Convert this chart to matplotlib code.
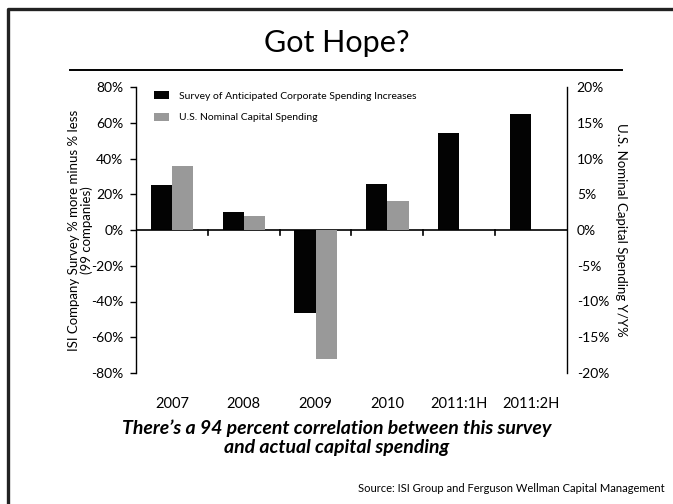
"""Got Hope? — survey vs. capital spending, dual-axis bar chart."""
import matplotlib.pyplot as plt
from matplotlib.lines import Line2D
import numpy as np

plt.rcParams["font.family"] = ["Lato", "DejaVu Sans"]

periods = ["2007", "2008", "2009", "2010", "2011:1H", "2011:2H"]
survey = [25, 10, -46.5, 26, 54.5, 65]          # % more minus % less (left axis)
capex = [9.0, 1.9, -18.0, 4.1]                   # Y/Y % (right axis), 2007-2010

BLACK, GRAY = "#030303", "#999999"

fig = plt.figure(figsize=(6.73, 5.04), dpi=100)
ax = fig.add_axes([136 / 673, 1 - 373 / 504, 431 / 673, 286 / 504])
ax2 = ax.twinx()

x = np.arange(len(periods))
bw = 0.295
b1 = ax.bar(x - bw / 2, survey, bw, color=BLACK, zorder=2)
b2 = ax2.bar(x[:len(capex)] + bw / 2, capex, bw, color=GRAY, zorder=2)

ax.set_xlim(-0.5, len(periods) - 0.5)
ax.set_ylim(-80, 80)
ax2.set_ylim(-20, 20)

ax.set_yticks(np.arange(-80, 81, 20))
ax.set_yticklabels([f"{v}%" for v in range(-80, 81, 20)])
ax2.set_yticks(np.arange(-20, 21, 5))
ax2.set_yticklabels([f"{v}%" for v in range(-20, 21, 5)])

for a in (ax, ax2):
    a.spines["top"].set_visible(False)
    a.spines["bottom"].set_visible(False)
ax.spines["right"].set_visible(False)
ax2.spines["left"].set_visible(False)
ax.spines["left"].set_linewidth(1.0)
ax2.spines["right"].set_linewidth(1.0)

ax.tick_params(axis="y", direction="out", length=4, width=1.0, pad=5,
               labelsize=10)
ax2.tick_params(axis="y", length=0, pad=7, labelsize=10)

# zero line with boundary ticks
ax.axhline(0, color="black", lw=1.2, zorder=3)
ax.set_xticks([])
for b in np.arange(0.5, len(periods) - 0.5, 1):
    ax.plot([b, b], [0, -2.6], color="black", lw=1.2, zorder=3)

for xi, lab in zip(x, periods):
    ax.text(xi, -97.5, lab, ha="center", va="center", fontsize=10.5)

ax.set_ylabel("ISI Company Survey % more minus % less\n(99 companies)",
              fontsize=9.5, labelpad=-1, linespacing=1.0)
ax2.set_ylabel("U.S. Nominal Capital Spending Y/Y%", fontsize=9.5,
               rotation=-90, labelpad=13)

ax.legend([b1, b2], ["Survey of Anticipated Corporate Spending Increases",
                     "U.S. Nominal Capital Spending"],
          loc="upper left", bbox_to_anchor=(0.02, 1.02), frameon=False,
          fontsize=7.5, handlelength=1.4, handleheight=0.9,
          labelspacing=1.15, handletextpad=1.0)

# title, rule and frame
fig.text(0.5, 1 - 43 / 504, "Got Hope?", ha="center", va="center",
         fontsize=22)
fig.add_artist(Line2D([70 / 673, 622 / 673], [1 - 70 / 504] * 2,
                      color="black", lw=1.4))
fig.add_artist(Line2D([8 / 673, 8 / 673, 1.0], [0.0, 1 - 9 / 504, 1 - 9 / 504],
                      color="#222222", lw=2.4))

fig.text(0.5, 1 - 438 / 504,
         "There\u2019s a 94 percent correlation between this survey\n"
         "and actual capital spending",
         ha="center", va="center", fontsize=14, fontweight="bold",
         style="italic", linespacing=1.12)
fig.text(665 / 673, 1 - 489 / 504,
         "Source: ISI Group and Ferguson Wellman Capital Management",
         ha="right", va="center", fontsize=8)

fig.savefig("out.png", dpi=100, facecolor="white")
